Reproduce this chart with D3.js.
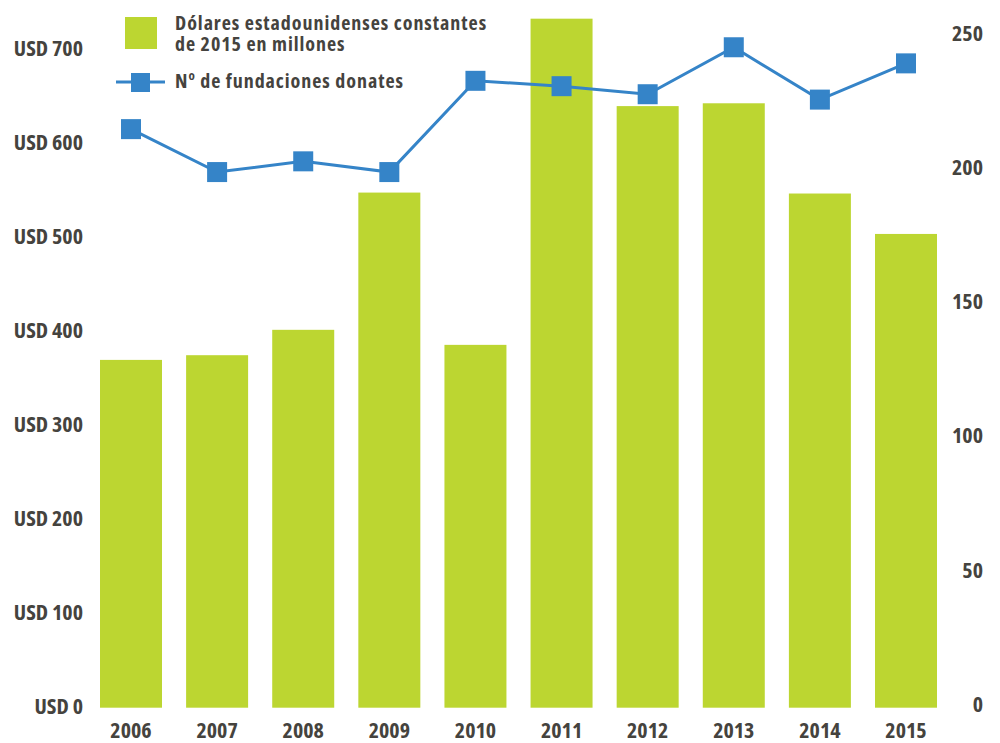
<!DOCTYPE html>
<html><head><meta charset="utf-8">
<script src="https://cdn.jsdelivr.net/npm/d3@7"></script>
<style>
body{margin:0;background:#fff;}
svg text{font-family:"Open Sans","Liberation Sans Narrow",sans-serif;font-weight:700;font-stretch:75%;fill:#45433e;}
</style></head><body>
<svg id="c" width="1000" height="743"></svg>
<script>
const years = ["2006","2007","2008","2009","2010","2011","2012","2013","2014","2015"];
const usdMillions = [370, 375, 402, 548, 386, 733, 640, 643, 547, 504];
const foundations = [214, 198, 202, 198, 232, 230, 227, 244.5, 225, 238.5];
const leftTicks = [0,100,200,300,400,500,600,700];
const rightTicks = [0,50,100,150,200,250];
const legendBar = ["Dólares estadounidenses constantes","de 2015 en millones"];
const legendLine = "de fundaciones donates";

const svg = d3.select("#c");
const green = "#bcd631", blue = "#3584c8";
const x = d3.scaleBand().domain(years).range([100,937]).paddingInner(0.28).paddingOuter(0);
const yL = d3.scaleLinear().domain([0,700]).range([707.7,49.7]);
const yR = d3.scaleLinear().domain([0,250]).range([703.5,32.5]);

svg.append("g").selectAll("rect").data(years).join("rect")
  .attr("x",d=>x(d)).attr("width",x.bandwidth())
  .attr("y",(d,i)=>yL(usdMillions[i])).attr("height",(d,i)=>yL(0)-yL(usdMillions[i]))
  .attr("fill",green);

const line = d3.line().x((d,i)=>x(years[i])+x.bandwidth()/2).y(d=>yR(d));
svg.append("path").datum(foundations).attr("d",line).attr("fill","none").attr("stroke",blue).attr("stroke-width",3);
const ms = 20;
svg.append("g").selectAll("rect").data(foundations).join("rect")
  .attr("x",(d,i)=>x(years[i])+x.bandwidth()/2-ms/2).attr("y",d=>yR(d)-ms/2)
  .attr("width",ms).attr("height",ms).attr("fill",blue);

function styleAxis(g){
  g.select(".domain").remove();
  g.selectAll("text").attr("font-size",22).attr("dy","0.35em")
    .style("fill","#45433e").style("font-family","'Open Sans','Liberation Sans Narrow',sans-serif")
    .style("font-weight","700").style("font-stretch","75%");
}
// left axis
const gl = svg.append("g").attr("transform","translate(83,-2)")
  .call(d3.axisLeft(yL).tickValues(leftTicks).tickSize(0).tickPadding(0).tickFormat(d=>"USD "+d));
styleAxis(gl);
// right axis
const gr = svg.append("g").attr("transform","translate(983,0)")
  .call(d3.axisLeft(yR).tickValues(rightTicks).tickSize(0).tickPadding(0));
styleAxis(gr);
// x axis
const gx = svg.append("g").attr("transform","translate(0,730)")
  .call(d3.axisBottom(x).tickSize(0).tickPadding(0));
styleAxis(gx);

// legend
const lg = svg.append("g");
lg.append("rect").attr("x",125).attr("y",17).attr("width",32).attr("height",32).attr("fill",green);
lg.append("text").attr("x",175).attr("y",30).attr("font-size",20).attr("letter-spacing",0.95).text(legendBar[0]);
lg.append("text").attr("x",175).attr("y",51).attr("font-size",20).attr("letter-spacing",0.95).text(legendBar[1]);
lg.append("line").attr("x1",116).attr("x2",165).attr("y1",82).attr("y2",82).attr("stroke",blue).attr("stroke-width",3);
lg.append("rect").attr("x",131).attr("y",73).attr("width",19).attr("height",19).attr("fill",blue);
const t = lg.append("text").attr("x",175).attr("y",88).attr("font-size",20).attr("letter-spacing",0.95);
t.append("tspan").text("N");
t.append("tspan").attr("font-size",13).attr("dy",-8).text("o");
t.append("tspan").attr("dy",8).text(" "+legendLine);
</script></body></html>
